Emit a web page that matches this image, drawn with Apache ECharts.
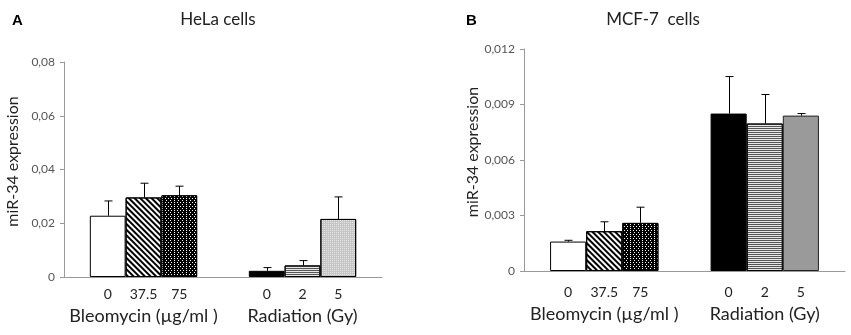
<!DOCTYPE html>
<html>
<head>
<meta charset="utf-8">
<script src="https://cdn.jsdelivr.net/npm/echarts@6/dist/echarts.min.js"></script>
<style>html,body{margin:0;padding:0;background:#fff;}#c{width:851px;height:335px;}</style>
</head>
<body>
<div id="c"></div>
<script>
// ---- data ----
var groups = ['Bleomycin (µg/ml )', 'Radiation (Gy)'];
var doseLabels = [['0', '37.5', '75'], ['0', '2', '5']];
var helaBleo = [0.0228, 0.0296, 0.0304];
var helaBleoSd = [0.0055, 0.0053, 0.0034];
var helaRad = [0.0023, 0.0043, 0.0216];
var helaRadSd = [0.0012, 0.0018, 0.0082];
var mcfBleo = [0.00159, 0.00215, 0.0026];
var mcfBleoSd = [0.00007, 0.00051, 0.00085];
var mcfRad = [0.00851, 0.00797, 0.0084];
var mcfRadSd = [0.0020, 0.00157, 0.00011];

var FONT = 'Lato';
var BARW = 0.225;

var styles = [
  [
    {color: '#fff', borderColor: '#000', borderWidth: 1},
    {color: '#fff', borderColor: '#000', borderWidth: 1,
     decal: {symbol: 'rect', symbolSize: 1, color: '#000', dashArrayX: [1, 0], dashArrayY: [2, 2], rotation: Math.PI / 4}},
    {color: '#000', borderColor: '#000', borderWidth: 1,
     decal: {symbol: 'rect', symbolSize: 1, color: '#fff', dashArrayX: [[1, 2], [0, 1.5, 1, 0.5]], dashArrayY: [1, 1], rotation: 0}}
  ],
  [
    {color: '#000', borderColor: '#000', borderWidth: 1},
    {color: '#e8e8e8', borderColor: '#000', borderWidth: 1,
     decal: {symbol: 'rect', symbolSize: 1, color: '#555', dashArrayX: [1, 0], dashArrayY: [1, 1], rotation: 0}},
    null
  ]
];
var grayHela = {color: '#c6c6c6', borderColor: '#000', borderWidth: 1,
  decal: {symbol: 'rect', symbolSize: 1, color: '#e4e4e4', dashArrayX: [1, 1], dashArrayY: [1, 1], rotation: 0}};
var grayMcf = {color: '#9a9a9a', borderColor: '#222', borderWidth: 1};

var grids = [
  {left: 64, top: 62, width: 318, height: 215},
  {left: 524, top: 49, width: 321, height: 222}
];

function yAxisCfg(gi, max, interval, labelFmt) {
  return {
    type: 'value', gridIndex: gi, min: 0, max: max, interval: interval,
    name: 'miR-34 expression', nameLocation: 'middle', nameGap: 43,
    nameTextStyle: {fontFamily: FONT, fontSize: 16, color: '#222', padding: [0, 0, 0, 16]},
    axisLine: {show: true, lineStyle: {color: '#999', width: 1}},
    axisTick: {show: true, length: 4, lineStyle: {color: '#999'}},
    axisLabel: {fontFamily: FONT, fontSize: 12, color: '#555', margin: 9, formatter: labelFmt},
    splitLine: {show: false}
  };
}
function xAxisCfg(gi, margin) {
  return {
    type: 'category', gridIndex: gi, data: groups,
    axisLine: {show: true, lineStyle: {color: '#999', width: 1}},
    axisTick: {show: false},
    axisLabel: {interval: 0, fontFamily: FONT, fontSize: 18, color: '#222', margin: margin}
  };
}

var series = [];
var panels = [
  {bleo: helaBleo, bleoSd: helaBleoSd, rad: helaRad, radSd: helaRadSd, gray: grayHela, labelDist: 10},
  {bleo: mcfBleo, bleoSd: mcfBleoSd, rad: mcfRad, radSd: mcfRadSd, gray: grayMcf, labelDist: 14}
];
panels.forEach(function (p, gi) {
  for (var k = 0; k < 3; k++) {
    (function (k) {
      var radStyle = k === 2 ? p.gray : styles[1][k];
      series.push({
        type: 'bar', xAxisIndex: gi, yAxisIndex: gi,
        barWidth: (BARW * 100) + '%', barGap: '0%',
        data: [
          {value: p.bleo[k], itemStyle: styles[0][k]},
          {value: p.rad[k], itemStyle: radStyle}
        ],
        label: {
          show: true, position: 'bottom', distance: p.labelDist,
          fontFamily: FONT, fontSize: 14, color: '#222',
          formatter: function (params) { return doseLabels[params.dataIndex][k]; }
        },
        silent: true, animation: false
      });
      series.push({
        type: 'custom', xAxisIndex: gi, yAxisIndex: gi, z: 5,
        data: [[0, p.bleo[k], p.bleoSd[k]], [1, p.rad[k], p.radSd[k]]],
        encode: {x: 0, y: 1},
        renderItem: function (params, api) {
          var c = api.value(0), v = api.value(1), sd = api.value(2);
          var base = api.coord([c, v]);
          var top = api.coord([c, v + sd]);
          var bw = api.size([1, 0])[0] * BARW;
          var x = Math.round(base[0] + (k - 1) * bw) + 0.5;
          var st = {stroke: '#000', lineWidth: 1};
          return {
            type: 'group', children: [
              {type: 'line', shape: {x1: x, y1: base[1], x2: x, y2: top[1]}, style: st},
              {type: 'line', shape: {x1: x - 4, y1: top[1], x2: x + 4, y2: top[1]}, style: st}
            ]
          };
        },
        silent: true, animation: false
      });
    })(k);
  }
});

var option = {
  animation: false,
  backgroundColor: '#fff',
  title: [
    {text: 'A', left: 7, top: 8, textStyle: {fontFamily: 'Liberation Sans', fontSize: 15, fontWeight: 'bold', color: '#000'}},
    {text: 'HeLa cells', left: 213, top: 6, textAlign: 'center', textStyle: {fontFamily: FONT, fontSize: 17, fontWeight: 'normal', color: '#222'}},
    {text: 'B', left: 461, top: 8, textStyle: {fontFamily: 'Liberation Sans', fontSize: 15, fontWeight: 'bold', color: '#000'}},
    {text: 'MCF-7  cells', left: 648, top: 6, textAlign: 'center', textStyle: {fontFamily: FONT, fontSize: 17, fontWeight: 'normal', color: '#222'}}
  ],
  grid: grids,
  xAxis: [xAxisCfg(0, 30), xAxisCfg(1, 34)],
  yAxis: [
    yAxisCfg(0, 0.08, 0.02, function (v) { return v === 0 ? '0' : v.toFixed(2).replace('.', ','); }),
    yAxisCfg(1, 0.012, 0.003, function (v) { return v === 0 ? '0' : v.toFixed(3).replace('.', ','); })
  ],
  series: series
};
var chart = echarts.init(document.getElementById('c'), null, {renderer: 'canvas'});
chart.setOption(option);
</script>
</body>
</html>
